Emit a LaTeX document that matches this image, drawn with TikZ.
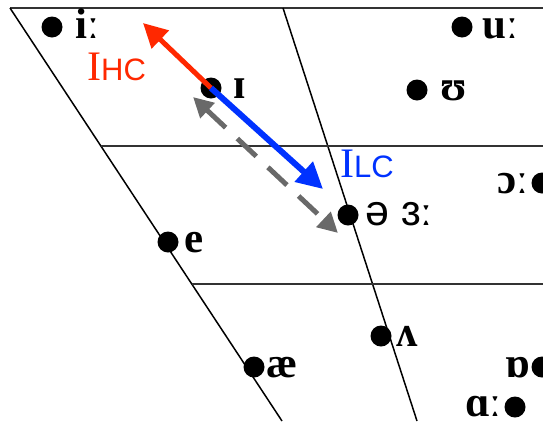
\documentclass[tikz,border=0pt]{standalone}
\usepackage{fontspec}
\setmainfont{Liberation Serif}
\newfontfamily\ipasans{Liberation Sans}
\usetikzlibrary{arrows.meta}
\definecolor{hcred}{RGB}{255,40,0}
\definecolor{lcblue}{RGB}{0,50,255}
\definecolor{dgray}{RGB}{105,105,105}
\begin{document}
\begin{tikzpicture}[x=1pt,y=-1pt,
  frame/.style={line width=1.5pt, black},
  gridline/.style={line width=1.8pt, black!80},
  vdot/.style={circle, fill=black, inner sep=0pt, minimum size=21pt},
  ipar/.style={font=\fontsize{43}{48}\selectfont\bfseries, inner sep=0pt, anchor=base west},
  ipal/.style={font=\fontsize{43}{48}\selectfont\bfseries, inner sep=0pt, anchor=base east},
  sublabel/.style={inner sep=0pt, anchor=base west},
  hcarrow/.style={line width=5pt, hcred, -{Triangle[length=24pt,width=24pt]}},
  lcarrow/.style={line width=6pt, lcblue, -{Triangle[length=26pt,width=26pt]}},
  darrow/.style={line width=5pt, dgray, dash pattern=on 26pt off 16pt,
     {Triangle[length=20pt,width=20pt]}-{Triangle[length=20pt,width=20pt]}}
]
\useasboundingbox (0,0) rectangle (543,421);
% frame lines
\coordinate (tl) at (10,8);
\coordinate (tr) at (545,8);
\coordinate (bl) at (282,421);
\coordinate (mt) at (283,8);
\coordinate (mb) at (417,421);
\coordinate (h1l) at (101,146);
\coordinate (h1r) at (545,146);
\coordinate (h2l) at (192,284);
\coordinate (h2r) at (545,284);
\draw[gridline] (tl) -- (tr);
\draw[frame] (tl) -- (bl);
\draw[frame] (mt) -- (mb);
\draw[gridline] (h1l) -- (h1r);
\draw[gridline] (h2l) -- (h2r);
% vowel dots
\node[vdot] (di) at (52,27) {};
\node[vdot] (dI) at (211,88) {};
\node[vdot] (du) at (462,27) {};
\node[vdot] (dU) at (417,90) {};
\node[vdot] (de) at (168,242) {};
\node[vdot] (dschwa) at (348,215) {};
\node[vdot] (do) at (542,183) {};
\node[vdot] (dv) at (381,336) {};
\node[vdot] (dae) at (254,367) {};
\node[vdot] (dQ) at (542,367) {};
\node[vdot] (dA) at (515,407) {};
% vowel labels
\node[ipar] (li) at (75,38) {iː};
\node[ipar] (lI) at (233,98) {ɪ};
\node[ipar] (lu) at (482,38) {uː};
\node[ipar] (lU) at (440,100) {ʊ};
\node[ipar] (le) at (184,252) {e};
\node[ipar] (lschwa) at (365,225) {{\ipasans\mdseries ə ɜ}ː};
\node[ipal] (lo) at (529,193) {ɔː};
\node[ipar] (lv) at (396,346) {ʌ};
\node[ipar] (lae) at (266,377) {æ};
\node[ipal] (lQ) at (530,377) {ɒ};
\node[ipal] (lA) at (502,416) {ɑː};
% arrows
\coordinate (hctip) at (143,23);
\coordinate (lctip) at (323,189);
\coordinate (dstart) at (193,97);
\coordinate (dend) at (338,233);
\draw[darrow] (dstart) -- (dend);
\draw[hcarrow] (dI.center) -- (hctip);
\draw[lcarrow] (dI.center) -- (lctip);
% labels
\node[sublabel, text=hcred] (ihc) at (87,80) {\fontsize{42}{46}\selectfont I{\ipasans\fontsize{31}{34}\selectfont HC}};
\node[sublabel, text=lcblue] (ilc) at (340,177) {\fontsize{42}{46}\selectfont I{\ipasans\fontsize{31}{34}\selectfont LC}};
\end{tikzpicture}
\end{document}
